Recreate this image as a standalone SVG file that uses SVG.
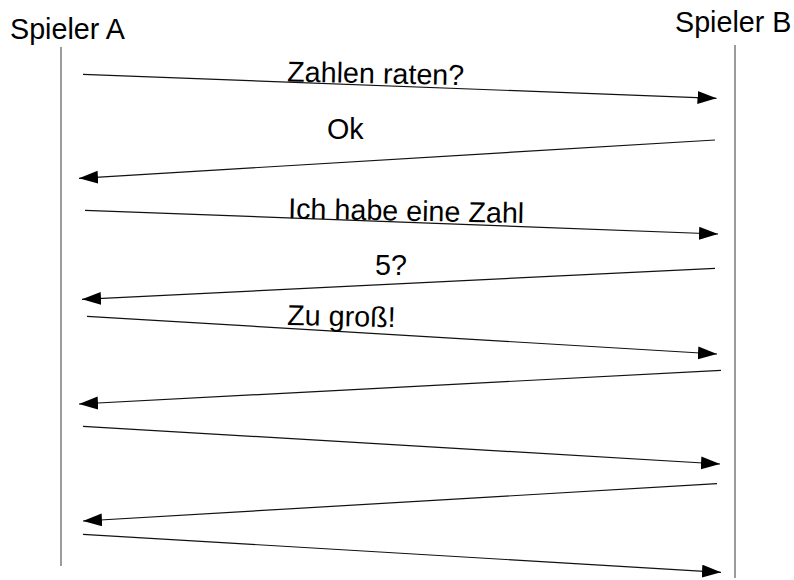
<svg xmlns="http://www.w3.org/2000/svg" width="794" height="580" viewBox="0 0 794 580">
<style>
text{font-family:"Liberation Sans",Arial,sans-serif;font-size:28.7px;fill:#000}
.life{stroke:#666;stroke-width:1.3;fill:none}
.msg{stroke:#111;stroke-width:1.2;fill:none;marker-end:url(#ah)}
</style>
<defs>
<marker id="ah" markerUnits="userSpaceOnUse" markerWidth="20" markerHeight="14" refX="19" refY="6.5" orient="auto">
<path d="M0,0 L19,6.5 L0,13 Z" fill="#000"/>
</marker>
</defs>
<rect width="794" height="580" fill="#fff"/>
<g id="spielerA">
<text x="10" y="39">Spieler A</text>
<line class="life" x1="61" y1="47" x2="61" y2="566"/>
</g>
<g id="spielerB">
<text x="675" y="32">Spieler B</text>
<line class="life" x1="735" y1="45" x2="735" y2="578"/>
</g>
<g id="connectors">
<line class="msg" x1="83" y1="74.3" x2="716.5" y2="98.3"/>
<line class="msg" x1="715" y1="140" x2="79" y2="178.3"/>
<line class="msg" x1="85" y1="210.3" x2="718" y2="234"/>
<line class="msg" x1="715" y1="268.3" x2="82" y2="299.3"/>
<line class="msg" x1="87" y1="316.3" x2="717" y2="354"/>
<line class="msg" x1="721" y1="370.3" x2="79" y2="404"/>
<line class="msg" x1="83" y1="426.3" x2="720" y2="464"/>
<line class="msg" x1="717" y1="483.7" x2="83" y2="521"/>
<line class="msg" x1="83" y1="534.3" x2="721" y2="572.3"/>
</g>
<g id="labels">
<text x="287" y="81.5" transform="rotate(1.15 287 81.5)">Zahlen raten?</text>
<text x="327" y="139.3">Ok</text>
<text x="288" y="218.3" transform="rotate(1.15 288 218.3)">Ich habe eine Zahl</text>
<text x="375" y="275">5?</text>
<text x="287" y="325" transform="rotate(1.15 287 325)">Zu groß!</text>
</g>
</svg>
